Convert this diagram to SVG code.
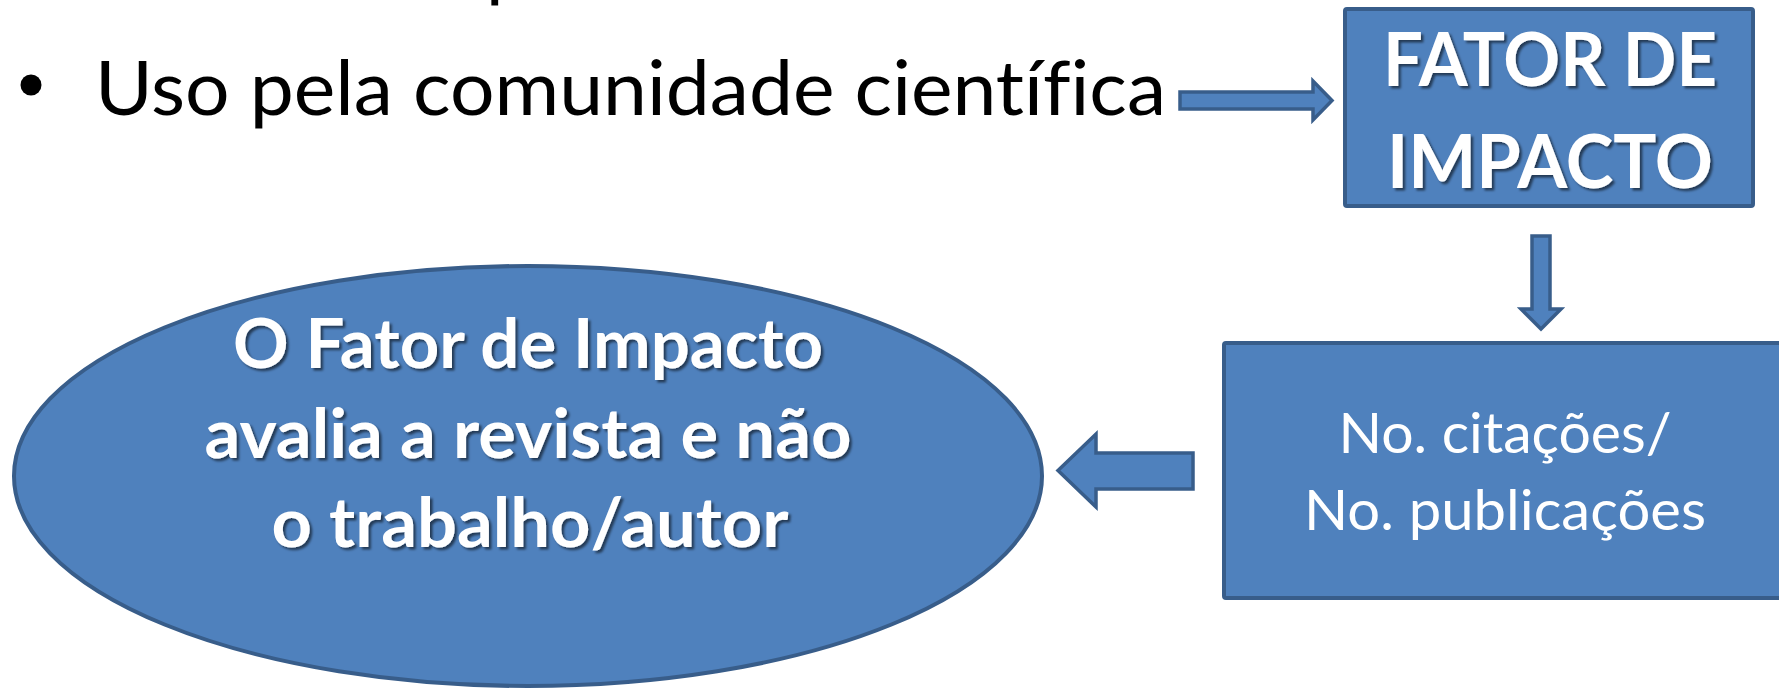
<svg xmlns="http://www.w3.org/2000/svg" width="1779" height="688" viewBox="0 0 1779 688">
<defs>
<style>
.shape{fill:#4F81BD;stroke:#385D8A;stroke-width:4;stroke-linejoin:round}
.arrow{fill:#4F81BD;stroke:#385D8A;stroke-width:3.5;stroke-linejoin:miter}
text{font-variant-ligatures:none;font-feature-settings:"liga" 0,"clig" 0}
.body{font-family:Lato,"Open Sans","Liberation Sans",sans-serif;fill:#000}
.bold{font-family:Lato,"Open Sans","Liberation Sans",sans-serif;font-weight:bold;fill:#FFFFFF;text-anchor:middle}
.reg{font-family:Lato,"Open Sans","Liberation Sans",sans-serif;fill:#FFFFFF;text-anchor:middle}
</style>
<filter id="sh" x="-10%" y="-20%" width="120%" height="140%">
<feDropShadow dx="2.5" dy="2.5" stdDeviation="1.2" flood-color="#000000" flood-opacity="0.55"/>
</filter>
</defs>

<g id="bullet-text">
<text class="body" x="486" y="-8" font-size="76">p</text>
<circle cx="31" cy="85" r="10.5" fill="#000"/>
<text class="body" x="95" y="115" font-size="76" textLength="1071" lengthAdjust="spacingAndGlyphs">Uso pela comunidade científica</text>
</g>

<g id="connectors">
<polygon class="arrow" points="1180,92 1313,92 1313,81 1332,100.5 1313,120 1313,109 1180,109"/>
<polygon class="arrow" points="1532,236 1550,236 1550,309 1561,309 1541,329 1521,309 1532,309"/>
<polygon class="arrow" points="1193,453 1096,453 1096,434 1058,470.5 1096,507 1096,489 1193,489"/>
</g>

<g id="node-fator">
<rect class="shape" x="1345" y="9" width="408" height="197" rx="2"/>
<g filter="url(#sh)">
<text class="bold" x="1550" y="86" font-size="75" textLength="334" lengthAdjust="spacingAndGlyphs">FATOR DE</text>
<text class="bold" x="1550" y="188" font-size="75" textLength="326" lengthAdjust="spacingAndGlyphs">IMPACTO</text>
</g>
</g>

<g id="node-ratio">
<rect class="shape" x="1224" y="343" width="600" height="255" rx="2"/>
<text class="reg" x="1505" y="453" font-size="56" textLength="333" lengthAdjust="spacingAndGlyphs">No. citações/</text>
<text class="reg" x="1505" y="530" font-size="56" textLength="402" lengthAdjust="spacingAndGlyphs">No. publicações</text>
</g>

<g id="node-ellipse">
<ellipse class="shape" cx="528" cy="476" rx="514" ry="210" stroke-width="3.5"/>
<g filter="url(#sh)">
<text class="bold" x="528" y="368" font-size="68" textLength="590" lengthAdjust="spacingAndGlyphs">O Fator de Impacto</text>
<text class="bold" x="528" y="458" font-size="68" textLength="647" lengthAdjust="spacingAndGlyphs">avalia a revista e não</text>
<text class="bold" x="530" y="547" font-size="68" textLength="517" lengthAdjust="spacingAndGlyphs">o trabalho/autor</text>
</g>
</g>
</svg>
